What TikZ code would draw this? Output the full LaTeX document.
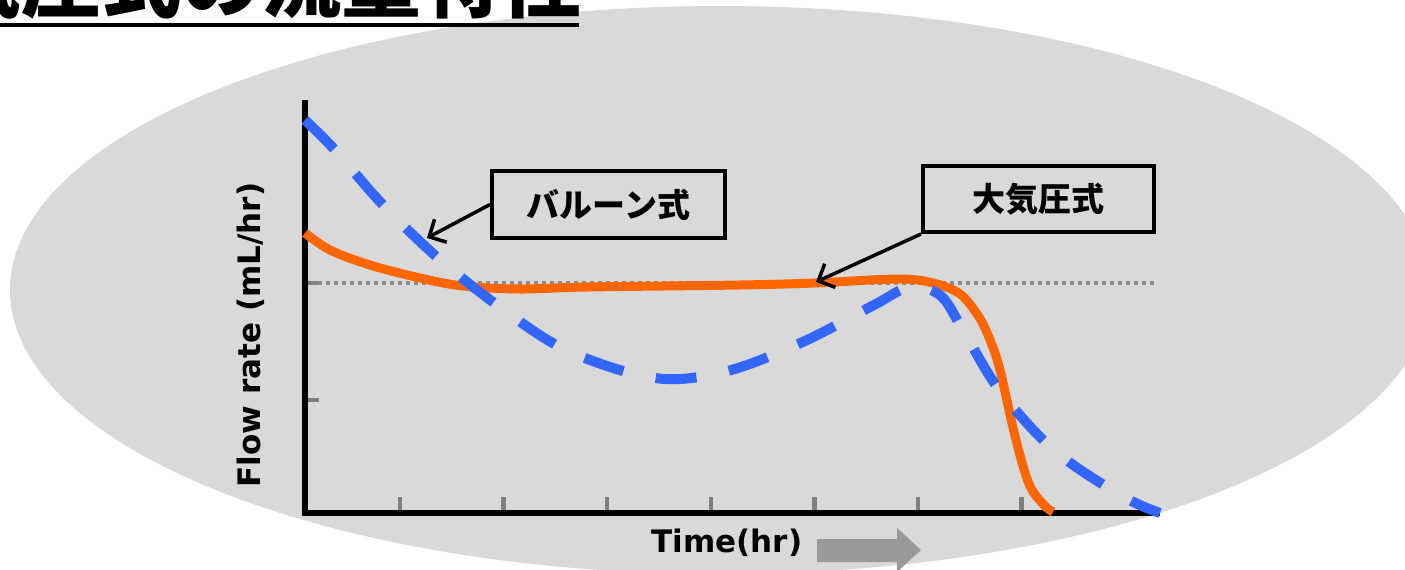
\documentclass[tikz,border=0pt]{standalone}
\usepackage{fontspec}
\setmainfont{DejaVu Sans}
\newfontfamily\jpfont{Noto Sans CJK JP}
\usetikzlibrary{arrows.meta}
\definecolor{bggray}{HTML}{D9D9D9}
\definecolor{flatorange}{HTML}{FF6600}
\definecolor{balloonblue}{HTML}{3366FF}
\definecolor{tickgray}{HTML}{7F7F7F}
\definecolor{dotgray}{HTML}{8C8C8C}
\definecolor{arrowgray}{HTML}{999999}

\begin{document}
\begin{tikzpicture}[x=1pt,y=-1pt,
    labelbox/.style={draw,line width=4pt,minimum height=67pt,inner sep=0pt,
      font=\jpfont\bfseries\fontsize{33}{40}\selectfont},
    pointer/.style={line width=3.5pt,-{Straight Barb[length=13pt,width=26pt]}},
    axisline/.style={line width=6.5pt,line join=miter},
    tickmark/.style={tickgray,line width=4.5pt},
    axislabel/.style={font=\bfseries\fontsize{31}{37}\selectfont,inner sep=0pt}]
                \useasboundingbox (0,0) rectangle (1405,570);
                \clip (0,0) rectangle (1405,570);
                \fill[bggray] (720,290) ellipse [x radius=710, y radius=284];
                \node[anchor=base east,inner sep=0pt,font=\jpfont\bfseries\fontsize{80}{90}\selectfont] (title) at (582,12) {気圧式の流量特性};
                \draw[line width=4pt] (0,25)--(579,25);
                \draw[dotgray,line width=4pt,dash pattern=on 4pt off 4pt] (318,283)--(1155,283);
                \foreach \y in {283,400}
                    \draw[tickmark] (305,\y)--(319,\y);
                \foreach \i in {0,...,6}
                    \draw[tickmark] (400+103.6*\i,510)--(400+103.6*\i,497);
                \coordinate (origin) at (305,513);
                \draw[axisline] (305,100)--(origin)--(1160,513);
                \draw[flatorange,line width=9pt] plot[smooth,tension=0.55] coordinates {(305,233) (330,250) (370,265) (420,278) (463,286) (520,289) (587,287) (740,285) (814,283) (898,279) (933,283) (960,294) (979,317) (990,340) (1000,370) (1015,436) (1029,484) (1044,505) (1053,512)};
                \draw[balloonblue,line width=10pt,dash pattern=on 41pt off 33pt] plot[smooth,tension=0.55] coordinates {(305,120) (335,150) (383,205) (438,258) (497,305) (560,347) (630,373) (680,379) (738,368) (807,340) (874,305) (910,287) (941,296) (964,332) (1000,391) (1055,451) (1122,496) (1160,513)};
                \node[labelbox,minimum width=233pt] (balloon) at (608.5,204.5) {バルーン式};
                \node[labelbox,minimum width=231pt,minimum height=66pt] (atmos) at (1038.5,199) {大気圧式};
                \coordinate (balloontip) at (427,238);
                \coordinate (atmostip) at (816,282);
                \draw[pointer] (balloon.west)--(balloontip);
                \draw[pointer] (atmos.south west)--(atmostip);
                \node[axislabel,rotate=90,anchor=base] (ylabel) at (260,335) {Flow rate (mL/hr)};
                \node[axislabel,anchor=base] (xlabel) at (727,552) {Time(hr)};
                \fill[arrowgray] (817,539)--(897,539)--(897,528)--(921,550)--(897,572)--(897,562)--(817,562)--cycle;
            \end{tikzpicture}
\end{document}
